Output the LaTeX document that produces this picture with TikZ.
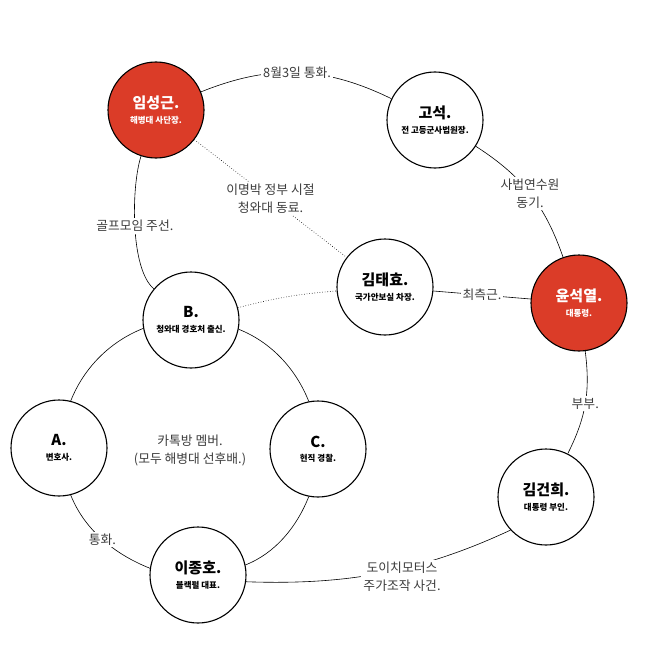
\documentclass[tikz,border=0pt]{standalone}
\usepackage{fontspec}
\setmainfont{Noto Sans CJK KR}
\usetikzlibrary{positioning}
\definecolor{hotred}{HTML}{DB3C28}
\definecolor{lblgray}{HTML}{3C3C3C}
\newcommand{\who}[2]{{\fontsize{15}{17}\selectfont\bfseries #1}\\[2.5pt]{\fontsize{8.5}{10}\selectfont\bfseries #2}}

\begin{document}
\begin{tikzpicture}[x=1pt, y=1pt,
    person/.style={draw, circle, line width=1.1pt, minimum size=96pt, inner sep=0pt, align=center, fill=white},
    key/.style={person, fill=hotred, text=white},
    lbl/.style={fill=white, text=lblgray, font=\fontsize{12.8}{18}\selectfont, align=center, inner sep=2pt},
    tie/.style={line width=0.6pt},
    old/.style={line width=0.6pt, dotted},
    ring/.style={tie, looseness=0.89}]
    \useasboundingbox (0,0) rectangle (658,-658);

    \node (lim) [key] at (156,-110) {\who{임성근.}{해병대 사단장.}};
    \node (ko) [person] at (435,-120) {\who{고석.}{전 고등군사법원장.}};
    \node (kim) [person] at (385,-287) {\who{김태효.}{국가안보실 차장.}};
    \node (yoon) [key] at (579,-303) {\who{윤석열.}{대통령.}};
    \node (B) [person] at (191,-320) {\who{B.}{청와대 경호처 출신.}};
    \node (A) [person] at (59,-448) {\who{A.}{변호사.}};
    \node (C) [person] at (318,-449) {\who{C.}{현직 경찰.}};
    \node (lee) [person] at (198,-575) {\who{이종호.}{블랙펄 대표.}};
    \node (kgh) [person] at (546,-497) {\who{김건희.}{대통령 부인.}};

    \node (katok) [lbl] at (190,-450) {카톡방 멤버.\\(모두 해병대 선후배.)};

    \draw[tie] (lim) to[bend left=24] node[lbl] {8월3일 통화.} (ko);
    \draw[tie] (ko) to[bend left=19] node[lbl] {사법연수원\\동기.} (yoon);
    \draw[tie] (lim) to[out=-108, in=140, looseness=0.6] node[lbl] {골프모임 주선.} (B);
    \draw[old] (lim) -- node[lbl] {이명박 정부 시절\\청와대 동료.} (kim);
    \draw[old] (B) to[bend left=5] (kim);
    \draw[tie] (kim) -- node[lbl] {최측근.} (yoon);
    \draw[tie] (yoon) to[bend left=17] node[lbl] {부부.} (kgh);
    \draw[tie] (kgh.-137) to[out=-155, in=-2, looseness=0.95] node[lbl, pos=0.42, yshift=-8pt] {도이치모터스\\주가조작 사건.} (lee.-8);
    % ring of the chat room
    \draw[ring] (B.190) to[out=201.6, in=68.4] (A.76);
    \draw[ring] (B.-11) to[out=-21.6, in=111.6] (C.101);
    \draw[ring] (C.-101) to[out=-111.6, in=21.6] (lee.12);
    \draw[ring] (A.-76) to[out=-68.4, in=158.4] node[lbl] {통화.} (lee.172);
\end{tikzpicture}
\end{document}
